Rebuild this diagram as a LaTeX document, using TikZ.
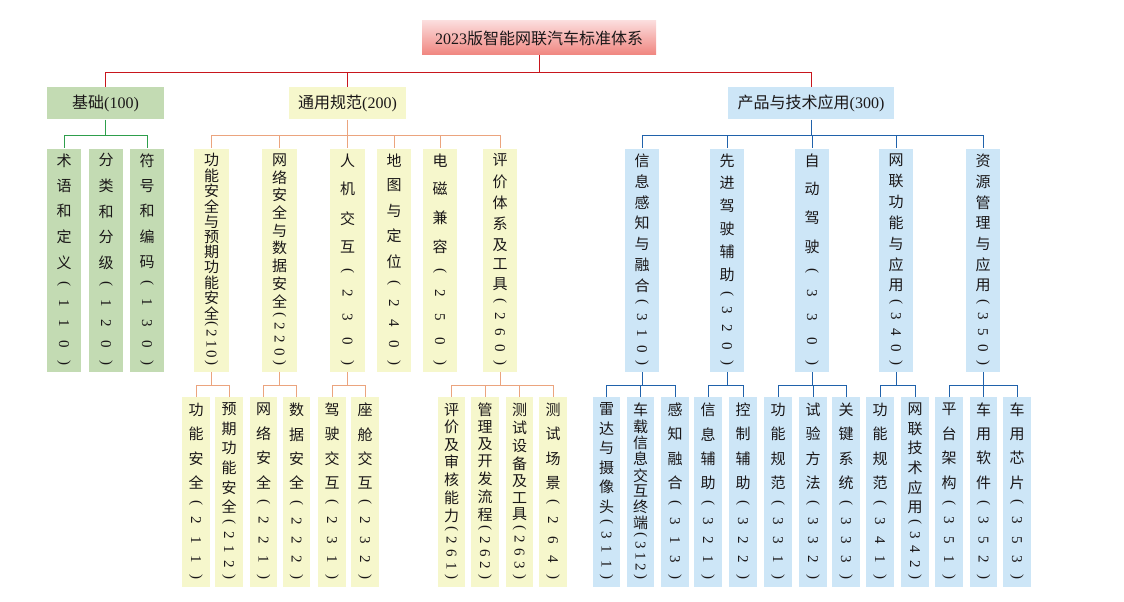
\documentclass[tikz,border=0pt]{standalone}
\usepackage{fontspec}
\usepackage{graphicx}
\setmainfont{Noto Sans CJK SC}
\newfontfamily\lat{Liberation Serif}
\definecolor{gfill}{HTML}{C3DBB3}
\definecolor{yfill}{HTML}{F6F7CC}
\definecolor{bfill}{HTML}{CDE6F7}
\definecolor{gline}{HTML}{2E9E4C}
\definecolor{yline}{HTML}{EBA47E}
\definecolor{bline}{HTML}{2062AB}
\definecolor{rline}{HTML}{C8161D}
\definecolor{rtop}{HTML}{FBDCDC}
\definecolor{rbot}{HTML}{F0857F}
\definecolor{txt}{HTML}{1A1718}
\newcommand\vmarg{5}
\def\vtok#1{\vfil\vbox{\hbox to 16pt{\hss#1\hss}\kern0pt}}
\def\vtokR#1{\vfil\vbox{\hbox to 16pt{\hss\rotatebox[origin=c]{-90}{\lat#1}\hss}\kern0pt}}
\def\vchars#1{\ifx\relax#1\else\vtok{#1}\expandafter\vchars\fi}
\def\vdigs#1{\ifx\relax#1\else\vtokR{#1}\expandafter\vdigs\fi}
\newcommand\vtext[3]{\vbox to #1{\offinterlineskip\vskip 0pt plus -1fil\vchars#2\relax\vtokR{(}\vdigs#3\relax\vtokR{)}}}
\newcommand\VB[8]{%
 \pgfmathsetmacro\vbW{#4-#3}\pgfmathsetmacro\vbH{#6-#5}%
 \pgfmathsetmacro\vbX{(#3+#4)/2}\pgfmathsetmacro\vbY{(#5+#6)/2}%
 \pgfmathsetmacro\vbT{#6-#5-2*\vmarg}%
 \node[vcol, #2, minimum width=\vbW pt, minimum height=\vbH pt] (#1) at (\vbX,\vbY) {\vtext{\vbT pt}{#7}{#8}};}
\tikzset{
  vcol/.style={rectangle, inner sep=0pt, text=txt, font=\fontsize{15}{16}\selectfont},
  lone/.style={rectangle, inner sep=0pt, text=txt, font=\fontsize{16}{18}\selectfont, minimum height=32pt},
  gbox/.style={fill=gfill}, ybox/.style={fill=yfill}, bbox/.style={fill=bfill},
  rl/.style={draw=rline, line width=1pt},
  gl/.style={draw=gline, line width=1pt},
  yl/.style={draw=yline, line width=1pt},
  bl/.style={draw=bline, line width=1pt}
}
\begin{document}
\begin{tikzpicture}[x=1pt,y=-1pt]
\useasboundingbox (0,0) rectangle (1124,602);
% root
\node[lone, top color=rtop, bottom color=rbot, minimum width=234pt, minimum height=34pt] (root) at (539,38) {{\lat 2023}版智能网联汽车标准体系};
% level 1
\node[lone, gbox, minimum width=117pt] (jc) at (105.5,103.3) {基础{\lat(100)}};
\node[lone, ybox, minimum width=117pt] (ty) at (347.5,103.3) {通用规范{\lat(200)}};
\node[lone, bbox, minimum width=166pt] (cp) at (811,103.3) {产品与技术应用{\lat(300)}};
% level 2
\VB{g1}{gbox}{47}{81}{148.5}{372}{术语和定义}{110}
\VB{g2}{gbox}{89}{123}{148.5}{372}{分类和分级}{120}
\VB{g3}{gbox}{130}{164}{148.5}{372}{符号和编码}{130}
\VB{y1}{ybox}{194}{229}{148.5}{372}{功能安全与预期功能安全}{210}
\VB{y2}{ybox}{262}{297}{148.5}{372}{网络安全与数据安全}{220}
\VB{y3}{ybox}{330}{365}{148.5}{372}{人机交互}{230}
\VB{y4}{ybox}{377}{411}{148.5}{372}{地图与定位}{240}
\VB{y5}{ybox}{423}{457}{148.5}{372}{电磁兼容}{250}
\VB{y6}{ybox}{483}{517}{148.5}{372}{评价体系及工具}{260}
\VB{b1}{bbox}{625}{659}{148.5}{372}{信息感知与融合}{310}
\VB{b2}{bbox}{710}{744}{148.5}{372}{先进驾驶辅助}{320}
\VB{b3}{bbox}{795}{829}{148.5}{372}{自动驾驶}{330}
\VB{b4}{bbox}{879}{913}{148.5}{372}{网联功能与应用}{340}
\VB{b5}{bbox}{966}{1000}{148.5}{372}{资源管理与应用}{350}
% level 3
\renewcommand\vmarg{6}
\VB{y11}{ybox}{182}{210}{397}{587}{功能安全}{211}
\VB{y12}{ybox}{215}{243}{397}{587}{预期功能安全}{212}
\VB{y21}{ybox}{250}{277}{397}{587}{网络安全}{221}
\VB{y22}{ybox}{283}{310}{397}{587}{数据安全}{222}
\VB{y31}{ybox}{318}{346}{397}{587}{驾驶交互}{231}
\VB{y32}{ybox}{351}{379}{397}{587}{座舱交互}{232}
\VB{y61}{ybox}{438}{465}{397}{587}{评价及审核能力}{261}
\VB{y62}{ybox}{471}{499}{397}{587}{管理及开发流程}{262}
\VB{y63}{ybox}{506}{533}{397}{587}{测试设备及工具}{263}
\VB{y64}{ybox}{539}{567}{397}{587}{测试场景}{264}
\VB{b11}{bbox}{593}{620}{397}{587}{雷达与摄像头}{311}
\VB{b12}{bbox}{627}{654}{397}{587}{车载信息交互终端}{312}
\VB{b13}{bbox}{661}{689}{397}{587}{感知融合}{313}
\VB{b21}{bbox}{694}{722}{397}{587}{信息辅助}{321}
\VB{b22}{bbox}{729}{757}{397}{587}{控制辅助}{322}
\VB{b31}{bbox}{764}{792}{397}{587}{功能规范}{331}
\VB{b32}{bbox}{799}{827}{397}{587}{试验方法}{332}
\VB{b33}{bbox}{832}{860}{397}{587}{关键系统}{333}
\VB{b41}{bbox}{866}{894}{397}{587}{功能规范}{341}
\VB{b42}{bbox}{901}{929}{397}{587}{网联技术应用}{342}
\VB{b51}{bbox}{935}{963}{397}{587}{平台架构}{351}
\VB{b52}{bbox}{970}{997}{397}{587}{车用软件}{352}
\VB{b53}{bbox}{1003}{1031}{397}{587}{车用芯片}{353}
% connectors root
\draw[rl] (root.south) -- ++(0,17) coordinate (rj);
\draw[rl] (rj) -| (jc.north);
\draw[rl] (rj) -| (ty.north);
\draw[rl] (rj) -| (cp.north);
% level 1 -> 2
\draw[gl] (jc.south) -- ++(0,16) coordinate (jcj);
\foreach \c in {g1,g3} \draw[gl] (jcj) -| (\c.north);
\draw[yl] (ty.south) -- ++(0,16) coordinate (tyj);
\foreach \c in {y1,y2,y3,y4,y5,y6} \draw[yl] (tyj) -| (\c.north);
\draw[bl] (cp.south) -- ++(0,16) coordinate (cpj);
\foreach \c in {b1,b2,b3,b4,b5} \draw[bl] (cpj) -| (\c.north);
% level 2 -> 3
\draw[yl] (y1.south) -- ++(0,13.5) coordinate (y1j);
\foreach \c in {y11,y12} \draw[yl] (y1j) -| (\c.north);
\draw[yl] (y2.south) -- ++(0,13.5) coordinate (y2j);
\foreach \c in {y21,y22} \draw[yl] (y2j) -| (\c.north);
\draw[yl] (y3.south) -- ++(0,13.5) coordinate (y3j);
\foreach \c in {y31,y32} \draw[yl] (y3j) -| (\c.north);
\draw[yl] (y6.south) -- ++(0,13.5) coordinate (y6j);
\foreach \c in {y61,y62,y63,y64} \draw[yl] (y6j) -| (\c.north);
\draw[bl] (b1.south) -- ++(0,13.5) coordinate (b1j);
\foreach \c in {b11,b12,b13} \draw[bl] (b1j) -| (\c.north);
\draw[bl] (b2.south) -- ++(0,13.5) coordinate (b2j);
\foreach \c in {b21,b22} \draw[bl] (b2j) -| (\c.north);
\draw[bl] (b3.south) -- ++(0,13.5) coordinate (b3j);
\foreach \c in {b31,b32,b33} \draw[bl] (b3j) -| (\c.north);
\draw[bl] (b4.south) -- ++(0,13.5) coordinate (b4j);
\foreach \c in {b41,b42} \draw[bl] (b4j) -| (\c.north);
\draw[bl] (b5.south) -- ++(0,13.5) coordinate (b5j);
\foreach \c in {b51,b52,b53} \draw[bl] (b5j) -| (\c.north);
\end{tikzpicture}
\end{document}
